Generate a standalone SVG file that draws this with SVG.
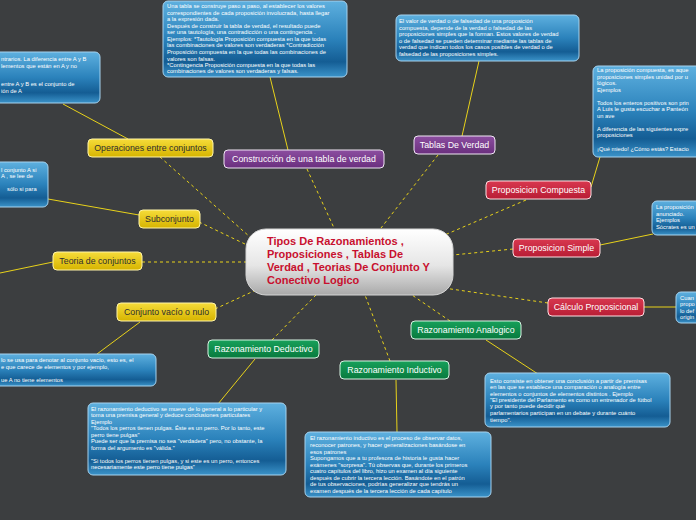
<svg xmlns="http://www.w3.org/2000/svg" width="696" height="520" viewBox="0 0 696 520">
<defs>
<linearGradient id="gBlue" x1="0" y1="0" x2="0" y2="1">
<stop offset="0" stop-color="#5eb0df"/>
<stop offset="0.5" stop-color="#2b82bb"/>
<stop offset="0.8" stop-color="#145d94"/>
<stop offset="1" stop-color="#3b93c9"/>
</linearGradient>
<linearGradient id="gCenter" x1="0" y1="0" x2="0" y2="1">
<stop offset="0" stop-color="#ffffff"/>
<stop offset="0.55" stop-color="#e6e6e6"/>
<stop offset="1" stop-color="#a9a9a9"/>
</linearGradient>
<linearGradient id="gYellow" x1="0" y1="0" x2="0" y2="1">
<stop offset="0" stop-color="#f6dc3a"/>
<stop offset="1" stop-color="#d6b400"/>
</linearGradient>
<linearGradient id="gPurple" x1="0" y1="0" x2="0" y2="1">
<stop offset="0" stop-color="#8c4ea0"/>
<stop offset="1" stop-color="#6a2f7e"/>
</linearGradient>
<linearGradient id="gRed" x1="0" y1="0" x2="0" y2="1">
<stop offset="0" stop-color="#d8384f"/>
<stop offset="1" stop-color="#b81d35"/>
</linearGradient>
<linearGradient id="gGreen" x1="0" y1="0" x2="0" y2="1">
<stop offset="0" stop-color="#17a05a"/>
<stop offset="1" stop-color="#087a3e"/>
</linearGradient>
</defs>
<style>
text{font-family:"Liberation Sans",Arial,sans-serif}
.box{fill:url(#gBlue);stroke:#a6d2ee;stroke-width:1}
.bt{font-size:5.8px;fill:#ffffff}
.dash{stroke:#e8d21a;stroke-width:1;stroke-dasharray:3 3;fill:none}
.sol{stroke:#e8d21a;stroke-width:1;fill:none}
.ny{fill:url(#gYellow);stroke:#fff4a8;stroke-width:1}
.np{fill:url(#gPurple);stroke:#f0e6f4;stroke-width:1}
.nr{fill:url(#gRed);stroke:#ffe0e4;stroke-width:1}
.ng{fill:url(#gGreen);stroke:#d8f4e4;stroke-width:1}
.lt{font-size:8.8px;text-anchor:middle}
.ld{fill:#2e2e2e}
.lw{fill:#ffffff}
.ct{font-size:11px;font-weight:bold;fill:#c8102e}
</style>
<rect x="0" y="0" width="696" height="520" fill="#3c3e40"/>

<g id="connectors">
<line class="dash" x1="160" y1="157" x2="250" y2="237"/>
<line class="dash" x1="307" y1="169" x2="334" y2="228"/>
<line class="dash" x1="438" y1="155" x2="381" y2="228"/>
<line class="dash" x1="526" y1="200" x2="440" y2="237"/>
<line class="dash" x1="199" y1="222" x2="247" y2="245"/>
<line class="dash" x1="513" y1="249" x2="453" y2="255"/>
<line class="dash" x1="142" y1="262" x2="246" y2="262"/>
<line class="dash" x1="548" y1="303" x2="437" y2="287"/>
<line class="dash" x1="215" y1="309" x2="256" y2="290"/>
<line class="dash" x1="450" y1="321" x2="412" y2="295"/>
<line class="dash" x1="272" y1="340" x2="316" y2="295"/>
<line class="dash" x1="390" y1="361" x2="365" y2="295"/>
<line class="sol" x1="128" y1="139" x2="63" y2="104"/>
<line class="sol" x1="288" y1="150" x2="270" y2="77"/>
<line class="sol" x1="462" y1="136" x2="479" y2="61"/>
<line class="sol" x1="591" y1="187" x2="600" y2="157"/>
<line class="sol" x1="139" y1="215" x2="48" y2="199"/>
<line class="sol" x1="600" y1="245" x2="653" y2="234"/>
<line class="sol" x1="53" y1="262" x2="0" y2="273"/>
<line class="sol" x1="644" y1="307" x2="677" y2="307"/>
<line class="sol" x1="140" y1="322" x2="97" y2="354"/>
<line class="sol" x1="255" y1="359" x2="218" y2="404"/>
<line class="sol" x1="396" y1="380" x2="397" y2="432"/>
<line class="sol" x1="486" y1="340" x2="538" y2="374"/>
</g>

<g id="central">
<rect x="246" y="229" width="207" height="66" rx="20" fill="url(#gCenter)" stroke="#d6d6d6"/>
<text class="ct" x="267" y="245">Tipos De Razonamientos ,</text>
<text class="ct" x="267" y="258">Proposiciones , Tablas De</text>
<text class="ct" x="267" y="271">Verdad , Teorias De Conjunto Y</text>
<text class="ct" x="267" y="284">Conectivo Logico</text>
</g>

<g id="n-operaciones">
<rect class="ny" x="88" y="139" width="125" height="18" rx="4"/>
<text class="lt ld" x="150.5" y="151">Operaciones entre conjuntos</text>
</g>
<g id="n-construccion">
<rect class="np" x="224" y="150" width="160" height="18" rx="4"/>
<text class="lt lw" x="304" y="162">Construcción de una tabla de verdad</text>
</g>
<g id="n-tablas">
<rect class="np" x="414" y="136" width="81" height="18" rx="4"/>
<text class="lt lw" x="454.5" y="148">Tablas De Verdad</text>
</g>
<g id="n-compuesta">
<rect class="nr" x="486" y="181" width="105" height="18" rx="4"/>
<text class="lt lw" x="538.5" y="193">Proposicion Compuesta</text>
</g>
<g id="n-subconjunto">
<rect class="ny" x="139" y="210" width="61" height="18" rx="4"/>
<text class="lt ld" x="169.5" y="222">Subconjunto</text>
</g>
<g id="n-simple">
<rect class="nr" x="513" y="239" width="87" height="18" rx="4"/>
<text class="lt lw" x="556.5" y="251">Proposicion Simple</text>
</g>
<g id="n-teoria">
<rect class="ny" x="53" y="252" width="89" height="18" rx="4"/>
<text class="lt ld" x="97.5" y="264">Teoria de conjuntos</text>
</g>
<g id="n-calculo">
<rect class="nr" x="548" y="298" width="96" height="18" rx="4"/>
<text class="lt lw" x="596" y="310">Cálculo Proposicional</text>
</g>
<g id="n-vacio">
<rect class="ny" x="117" y="303" width="99" height="18" rx="4"/>
<text class="lt ld" x="166.5" y="315">Conjunto vacío o nulo</text>
</g>
<g id="n-analogico">
<rect class="ng" x="411" y="321" width="110" height="18" rx="4"/>
<text class="lt lw" x="466" y="333">Razonamiento Analogico</text>
</g>
<g id="n-deductivo">
<rect class="ng" x="208" y="340" width="111" height="18" rx="4"/>
<text class="lt lw" x="263.5" y="352">Razonamiento Deductivo</text>
</g>
<g id="n-inductivo">
<rect class="ng" x="340" y="361" width="109" height="18" rx="4"/>
<text class="lt lw" x="394.5" y="373">Razonamiento Inductivo</text>
</g>

<g id="b-operaciones">
<rect class="box" x="-10" y="52" width="110" height="51" rx="5"/>
<text class="bt" x="1" y="61">ntrarios. La diferencia entre A y B</text>
<text class="bt" x="1" y="67.5">lementos que están en A y no</text>
<text class="bt" x="1" y="86">entre A y B es el conjunto de</text>
<text class="bt" x="1" y="92.5">ión de A</text>
</g>

<g id="b-construccion">
<rect class="box" x="163" y="1" width="184" height="76" rx="5"/>
<text class="bt" x="167" y="8">Una tabla se construye paso a paso, al establecer los valores</text>
<text class="bt" x="167" y="14.5">correspondientes de cada proposición involucrada, hasta llegar</text>
<text class="bt" x="167" y="21">a la expresión dada.</text>
<text class="bt" x="167" y="27.7">Después de construir la tabla de verdad, el resultado puede</text>
<text class="bt" x="167" y="34.2">ser una tautología, una contradicción o una contingencia .</text>
<text class="bt" x="167" y="40.8">Ejemplos: *Tautología Proposición compuesta en la que todas</text>
<text class="bt" x="167" y="47.2">las combinaciones de valores son verdaderas *Contradicción</text>
<text class="bt" x="167" y="54">Proposición compuesta en la que todas las combinaciones de</text>
<text class="bt" x="167" y="60.5"> valores son falsas.</text>
<text class="bt" x="167" y="67">*Contingencia Proposición compuesta en la que todas las</text>
<text class="bt" x="167" y="73.2">combinaciones de valores son verdaderas y falsas.</text>
</g>

<g id="b-tablas">
<rect class="box" x="396" y="15" width="183" height="46" rx="5"/>
<text class="bt" x="399" y="23">El valor de verdad o de falsedad de una proposición</text>
<text class="bt" x="399" y="29.7">compuesta, depende de la verdad o falsedad de las</text>
<text class="bt" x="399" y="36.2">proposiciones simples que la forman. Estos valores de verdad</text>
<text class="bt" x="399" y="42.8">o de falsedad se pueden determinar mediante las tablas de</text>
<text class="bt" x="399" y="49.4">verdad que indican todos los casos posibles de verdad o de</text>
<text class="bt" x="399" y="55.8">falsedad de las proposiciones simples.</text>
</g>

<g id="b-compuesta">
<rect class="box" x="593" y="66" width="115" height="91" rx="5"/>
<text class="bt" x="597" y="72">La proposición compuesta, es aque</text>
<text class="bt" x="597" y="78.5">proposiciones simples unidad por u</text>
<text class="bt" x="597" y="85">lógicos.</text>
<text class="bt" x="597" y="91.5">Ejemplos</text>
<text class="bt" x="597" y="104.5">Todos los enteros positivos son prin</text>
<text class="bt" x="597" y="111">A Luis le gusta escuchar a Panteón</text>
<text class="bt" x="597" y="117.5">un ave</text>
<text class="bt" x="597" y="130.5">A diferencia de las siguientes expre</text>
<text class="bt" x="597" y="137">proposiciones</text>
<text class="bt" x="597" y="150.5">¡Qué miedo! ¿Cómo estás? Estacio</text>
</g>

<g id="b-subconjunto">
<rect class="box" x="-10" y="162" width="58" height="45" rx="5"/>
<text class="bt" x="1" y="171.5">l conjunto A si</text>
<text class="bt" x="1" y="178">A , se lee de</text>
<text class="bt" x="7" y="191">sólo si para</text>
</g>

<g id="b-simple">
<rect class="box" x="652" y="201" width="56" height="34" rx="5"/>
<text class="bt" x="656" y="209">La proposición</text>
<text class="bt" x="656" y="215.5">anunciado.</text>
<text class="bt" x="656" y="222">Ejemplos</text>
<text class="bt" x="656" y="228.5">Sócrates es un</text>
</g>

<g id="b-calculo">
<rect class="box" x="676" y="292" width="32" height="31" rx="5"/>
<text class="bt" x="680" y="299.5">Cuan</text>
<text class="bt" x="680" y="306">propo</text>
<text class="bt" x="680" y="312.5">lo def</text>
<text class="bt" x="680" y="319">origin</text>
</g>

<g id="b-vacio">
<rect class="box" x="-10" y="354" width="166" height="32" rx="5"/>
<text class="bt" x="1" y="362">lo se usa para denotar al conjunto vacío, esto es, el</text>
<text class="bt" x="1" y="368.5">e que carece de  elementos y por ejemplo,</text>
<text class="bt" x="1" y="381.5">ue A no tiene elementos</text>
</g>

<g id="b-deductivo">
<rect class="box" x="88" y="403" width="198" height="72" rx="5"/>
<text class="bt" x="91" y="410.5">El razonamiento deductivo se mueve de lo general a lo particular y</text>
<text class="bt" x="91" y="417">toma una premisa general y deduce conclusiones particulares</text>
<text class="bt" x="91" y="423.5">Ejemplo</text>
<text class="bt" x="91" y="430">"Todos los perros tienen pulgas. Éste es un perro. Por lo tanto, este</text>
<text class="bt" x="91" y="436.5">perro tiene pulgas"</text>
<text class="bt" x="91" y="443">Puede ser que la premisa no sea "verdadera" pero, no obstante, la</text>
<text class="bt" x="91" y="449.5">forma del argumento es "válida."</text>
<text class="bt" x="91" y="462.5">"Si todos los perros tienen pulgas, y si este es un perro, entonces</text>
<text class="bt" x="91" y="469">necesariamente este perro tiene pulgas"</text>
</g>

<g id="b-inductivo">
<rect class="box" x="305" y="432" width="186" height="65" rx="5"/>
<text class="bt" x="310" y="440">El razonamiento inductivo es el proceso de observar datos,</text>
<text class="bt" x="310" y="447">reconocer patrones, y hacer generalizaciones basándose en</text>
<text class="bt" x="310" y="453.5">esos patrones</text>
<text class="bt" x="310" y="460">Supongamos que a tu profesora de historia le gusta hacer</text>
<text class="bt" x="310" y="466.5">exámenes "sorpresa". Tú observas que, durante los primeros</text>
<text class="bt" x="310" y="473">cuatro capítulos del libro, hizo un examen al día siguiente</text>
<text class="bt" x="310" y="479.5">después de cubrir la tercera lección. Basándote en el patrón</text>
<text class="bt" x="310" y="486.3">de tus observaciones, podrías generalizar que tendrás un</text>
<text class="bt" x="310" y="492.7">examen después de la tercera lección de cada capítulo</text>
</g>

<g id="b-analogico">
<rect class="box" x="485" y="373" width="185" height="54" rx="5"/>
<text class="bt" x="490" y="382.5">Esto consiste en obtener una conclusión a partir de premisas</text>
<text class="bt" x="490" y="389">en las que se establece una comparación o analogía entre</text>
<text class="bt" x="490" y="395.5">elementos o conjuntos de elementos distintos . Ejemplo</text>
<text class="bt" x="490" y="402.3">"El presidente del Parlamento es como un entrenador de fútbol</text>
<text class="bt" x="490" y="408">y por tanto puede decidir qué</text>
<text class="bt" x="490" y="415">parlamentarios participan en un debate y durante cuánto</text>
<text class="bt" x="490" y="421.5">tiempo".</text>
</g>
</svg>
